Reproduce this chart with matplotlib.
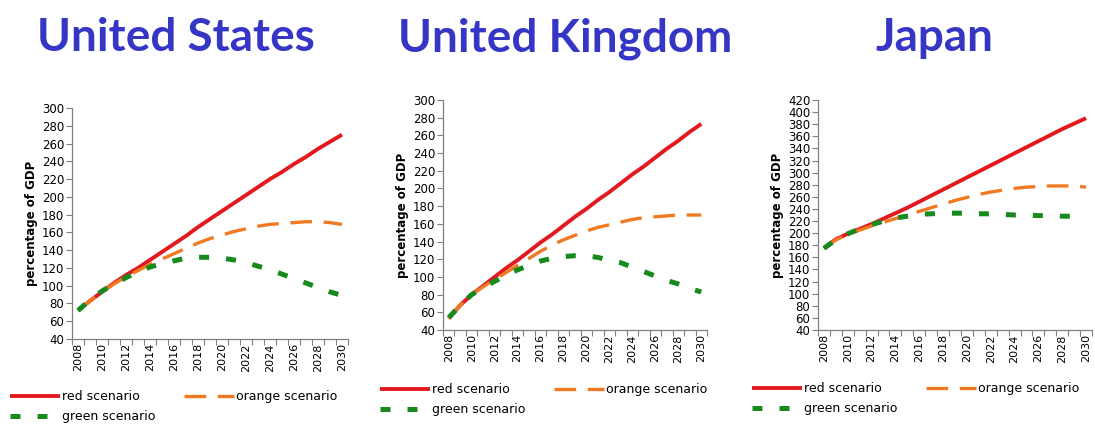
import numpy as np
import matplotlib
matplotlib.use("Agg")
import matplotlib.pyplot as plt

# Debt projections, percentage of GDP, one value per year 2008-2030
years = list(range(2008, 2031))
year_labels = [str(y) for y in years[::2]]

us_red = [72, 83, 93, 103, 112, 120, 129, 138, 147, 156, 166, 175,
          184, 193, 202, 211, 220, 228, 237, 245, 254, 262, 270]
us_orange = [72, 83, 93, 102, 110, 117, 124, 130, 136, 142, 148, 153,
             157, 161, 164, 167, 169, 170, 171, 172, 172, 171, 169]
us_green = [72, 84, 94, 102, 109, 116, 121, 125, 128, 131, 132, 132,
            131, 129, 126, 122, 118, 113, 108, 103, 98, 93, 89]

uk_red = [53, 68, 80, 90, 100, 110, 119, 129, 139, 148, 158, 168,
          177, 187, 196, 206, 216, 225, 235, 245, 254, 264, 273]
uk_orange = [53, 68, 80, 89, 97, 105, 113, 121, 129, 136, 142, 147,
             152, 156, 159, 162, 165, 167, 168, 169, 170, 170, 170]
uk_green = [54, 68, 80, 88, 95, 102, 108, 113, 118, 121, 123, 124,
            124, 122, 119, 116, 111, 106, 101, 96, 92, 87, 83]

jp_red = [175, 190, 199, 207, 215, 224, 233, 242, 252, 262, 272, 282,
          292, 302, 312, 322, 332, 342, 352, 362, 372, 381, 390]
jp_orange = [175, 189, 198, 205, 212, 218, 224, 230, 236, 242, 248, 254,
             259, 264, 268, 271, 274, 276, 277, 278, 278, 278, 276]
jp_green = [175, 189, 199, 207, 214, 220, 225, 228, 231, 232, 233, 233,
            233, 232, 232, 231, 230, 230, 229, 229, 228, 228, 227]

RED = "#E3191F"
ORANGE = "#F07A22"
GREEN = "#178A1E"
TITLE_BLUE = "#3636C6"
AXIS_GREY = "#808080"

W, H = 1095, 424
fig = plt.figure(figsize=(W / 100, H / 100), dpi=100)


def px_box(left, top, right, bottom):
    return [left / W, 1 - bottom / H, (right - left) / W, (bottom - top) / H]


def draw_panel(box, title, title_x, red, orange, green, ymax, legend_at):
    ax = fig.add_axes(box)
    x = np.arange(len(years))

    l_red, = ax.plot(x, red, color=RED, lw=2.8, solid_capstyle="butt",
                     solid_joinstyle="round")
    l_orange, = ax.plot(x, orange, color=ORANGE, lw=2.4, dashes=(6.5, 3.5))
    l_green, = ax.plot(x, green, color=GREEN, lw=3.6, dashes=(2.0, 3.4))

    ax.set_xlim(-0.5, len(years) - 0.5)
    ax.set_ylim(40, ymax)
    ax.set_yticks(np.arange(40, ymax + 1, 20))

    # category axis: marks between years, labels on every other year
    ax.set_xticks(x[::2], year_labels, rotation=90)
    ax.set_xticks(np.arange(-0.5, len(years)), minor=True)
    ax.tick_params(axis="x", which="major", length=0, pad=3, labelsize=8)
    ax.tick_params(axis="x", which="minor", length=4, width=0.8, color=AXIS_GREY)
    ax.tick_params(axis="y", length=4, width=0.8, color=AXIS_GREY, pad=1.5,
                   labelsize=8.5)

    for side in ("top", "right"):
        ax.spines[side].set_visible(False)
    for side in ("left", "bottom"):
        ax.spines[side].set_color(AXIS_GREY)
        ax.spines[side].set_linewidth(0.9)

    ax.set_ylabel("percentage of GDP", fontsize=8.5, fontweight="bold",
                  labelpad=3)

    fig.text(title_x / W, 1 - 51 / H, title, ha="center", va="baseline",
             fontsize=33, fontweight="bold", family="Lato", color=TITLE_BLUE)

    ax.legend([l_red, l_green, l_orange],
              ["red scenario", "green scenario", "orange scenario"],
              ncol=2, loc="upper left",
              bbox_to_anchor=(legend_at[0] / W, 1 - legend_at[1] / H),
              bbox_transform=fig.transFigure, frameon=False, fontsize=9,
              handlelength=4.0, handletextpad=0.15, columnspacing=2.3,
              labelspacing=0.55, borderpad=0, borderaxespad=0)
    return ax


draw_panel(px_box(72, 108, 348, 339), "United States", 176,
           us_red, us_orange, us_green, 300, (10, 390))
draw_panel(px_box(443, 100, 707, 330), "United Kingdom", 565,
           uk_red, uk_orange, uk_green, 300, (380, 383))
draw_panel(px_box(818, 100, 1092, 330), "Japan", 935,
           jp_red, jp_orange, jp_green, 420, (752, 382))

fig.savefig("out.png", dpi=100)
